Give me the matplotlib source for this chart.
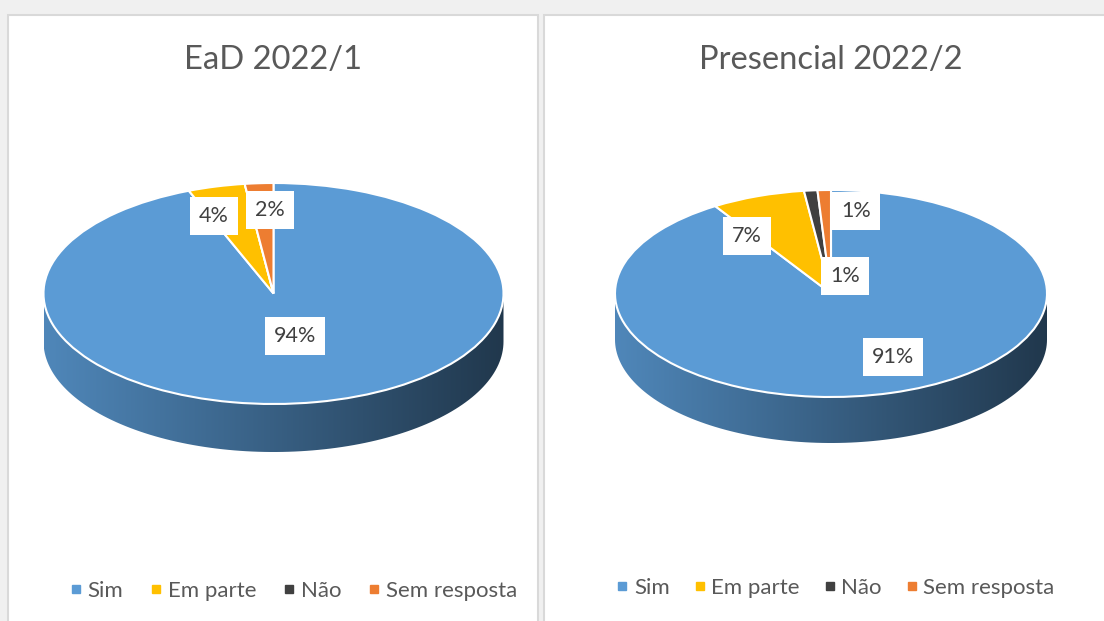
import numpy as np
import matplotlib
matplotlib.use("Agg")
from matplotlib import pyplot as plt
from matplotlib.patches import Rectangle, Polygon
from matplotlib.lines import Line2D

plt.rcParams['font.family'] = ['Lato', 'DejaVu Sans']

categories = ['Sim', 'Em parte', 'Não', 'Sem resposta']
colors = ['#5B9BD5', '#FFC000', '#404040', '#ED7D31']
ead_values = [94, 4, 0, 2]
presencial_values = [91, 7, 1, 1]
titles = ['EaD 2022/1', 'Presencial 2022/2']

W, H = 1104, 621
TEXT = '#595959'

# label anchors in unit-pie coordinates (layout only)
ead_label_pos = [(0.093, -0.385), (-0.259, 0.70), None, (-0.015, 0.756)]
pres_label_pos = [(0.287, -0.614), (-0.389, 0.556), (0.065, 0.169), (0.116, 0.797)]


def front_intervals(t1, t2):
    # parts of a wedge [t1, t2] (deg) that lie on the front half (180..360)
    out = []
    for k in (-2, -1, 0, 1):
        a = max(t1, 180 + 360 * k)
        b = min(t2, 360 + 360 * k)
        if b > a:
            out.append((a, b))
    return out


def draw_pie(fig, values, box, depth, label_pos):
    cx, cy, rx, ry = box
    d = depth / ry
    ax = fig.add_axes([(cx - rx) / W, (H - (cy + ry + depth)) / H, 2 * rx / W, (2 * ry + depth) / H])
    ax.patch.set_alpha(0)
    wedges, _ = ax.pie(values, colors=colors, startangle=90, counterclock=False,
                       wedgeprops=dict(edgecolor='white', linewidth=1.5, zorder=3, clip_on=False))

    # side wall with a left-to-right shading
    shade = np.linspace(0.87, 0.36, 256)
    for w, c in zip(wedges, colors):
        base = np.array(matplotlib.colors.to_rgb(c))
        img = (base[None, :] * shade[:, None])[None, :, :]
        for a, b in front_intervals(w.theta1, w.theta2):
            t = np.radians(np.linspace(a, b, 120))
            top = np.column_stack([np.cos(t), np.sin(t)])
            bot = np.column_stack([np.cos(t[::-1]), np.sin(t[::-1]) - d])
            poly = Polygon(np.vstack([top, bot]), closed=True, transform=ax.transData,
                           fc='none', ec='none')
            im = ax.imshow(img, extent=(-1, 1, -1 - d, 0), aspect='auto', zorder=1,
                           interpolation='bilinear')
            im.set_clip_path(poly)

    for v, pos in zip(values, label_pos):
        if v == 0 or pos is None:
            continue
        ax.text(pos[0], pos[1], f'{v}%', ha='center', va='center', fontsize=15.5,
                color='#404040', zorder=5,
                bbox=dict(boxstyle='square,pad=0.42', fc='white', ec='none'))

    ax.set_xlim(-1, 1)
    ax.set_ylim(-1 - d, 1)
    ax.set_aspect('auto')
    ax.axis('off')
    return ax


fig = plt.figure(figsize=(W / 100, H / 100), dpi=100)
fig.patch.set_facecolor('#f0f0f0')

# chart panels (behind the axes)
fig.add_artist(Rectangle((7.5 / W, -0.01), (538 - 7.5) / W, (H - 14.5) / H + 0.01,
                         transform=fig.transFigure, fc='white', ec='#d9d9d9', lw=1.5, zorder=-5))
fig.add_artist(Rectangle((543.5 / W, -0.01), 0.6, (H - 14.5) / H + 0.01,
                         transform=fig.transFigure, fc='white', ec='#d9d9d9', lw=1.5, zorder=-5))

draw_pie(fig, ead_values, (273.5, 293.5, 230, 110.5), 48, ead_label_pos)
draw_pie(fig, presencial_values, (831, 293.5, 216, 103.5), 46, pres_label_pos)

fig.text(273.5 / W, 1 - 60 / H, titles[0], ha='center', va='center', fontsize=23.6, color=TEXT)
fig.text(831 / W, 1 - 60 / H, titles[1], ha='center', va='center', fontsize=23.6, color=TEXT)

handles = [Line2D([], [], marker='s', ls='none', color=c, markersize=5.5) for c in colors]
for lx, ly, sp in [(294, 591, 1.25), (836, 588, 1.12)]:
    fig.legend(handles, categories, loc='center', bbox_to_anchor=(lx / W, 1 - ly / H), ncol=4,
               frameon=False, fontsize=16, labelcolor=TEXT, handlelength=0.45,
               handletextpad=0.3, columnspacing=sp, borderaxespad=0)

fig.savefig('out.png', dpi=100, facecolor=fig.get_facecolor())
